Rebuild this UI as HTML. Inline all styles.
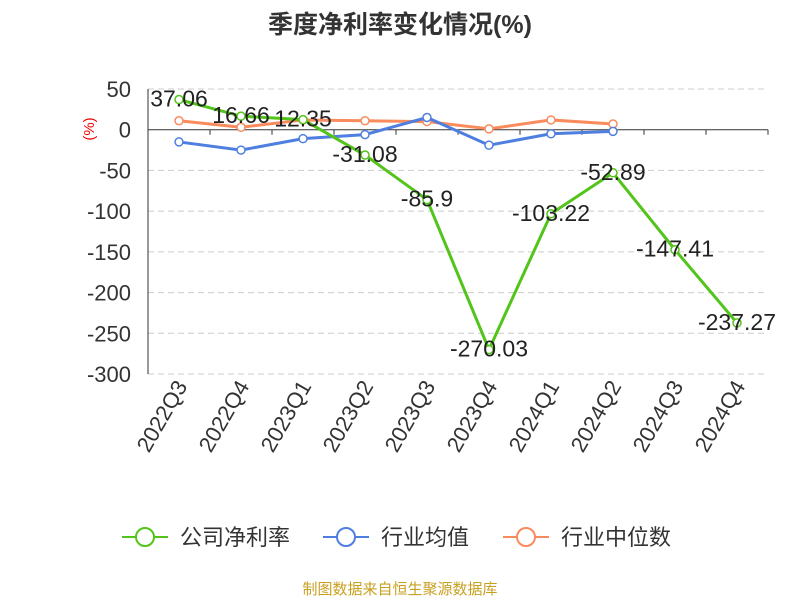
<!DOCTYPE html>
<html><head><meta charset="utf-8">
<style>
body{margin:0;background:#fff;font-family:"Liberation Sans","Noto Sans CJK SC",sans-serif;}
svg text{font-family:"Liberation Sans","Noto Sans CJK SC",sans-serif;}
</style></head>
<body>
<svg id="chart" width="800" height="600" xmlns="http://www.w3.org/2000/svg">
<text x="400" y="33" text-anchor="middle" font-size="25" font-weight="bold" fill="#333">季度净利率变化情况(%)</text>
<text x="94" y="129" font-size="15" fill="#e00" transform="rotate(-90 94 129)" text-anchor="middle">(%)</text>
<g id="grid"></g><g id="axes"></g><g id="series"></g>
<g>
<g><line x1="122" y1="537" x2="168" y2="537" stroke="#52c41a" stroke-width="2"/><circle cx="145" cy="537" r="9" fill="#fff" stroke="#52c41a" stroke-width="2"/><text x="180" y="545" font-size="22" fill="#333">公司净利率</text></g>
<g><line x1="323" y1="537" x2="369" y2="537" stroke="#4e7fe0" stroke-width="2"/><circle cx="346" cy="537" r="9" fill="#fff" stroke="#4e7fe0" stroke-width="2"/><text x="381" y="545" font-size="22" fill="#333">行业均值</text></g>
<g><line x1="503" y1="537" x2="549" y2="537" stroke="#f98b5d" stroke-width="2"/><circle cx="526" cy="537" r="9" fill="#fff" stroke="#f98b5d" stroke-width="2"/><text x="561" y="545" font-size="22" fill="#333">行业中位数</text></g>
</g>
<text x="400" y="594" text-anchor="middle" font-size="15" fill="#c8a020">制图数据来自恒生聚源数据库</text>
</svg>
<script>
const categories=["2022Q3","2022Q4","2023Q1","2023Q2","2023Q3","2023Q4","2024Q1","2024Q2","2024Q3","2024Q4"];
const companyValues=[37.06,16.66,12.35,-31.08,-85.9,-270.03,-103.22,-52.89,-147.41,-237.27];
const industryAvg=[-15,-25,-11,-6,15,-19,-5,-2];
const industryMedian=[11,3,12,11,10,1,12,7];
const yTicks=[50,0,-50,-100,-150,-200,-250,-300];
const NS="http://www.w3.org/2000/svg";
const left=148,right=768,yTop=89,yBot=374,vMax=50,vMin=-300;
const band=(right-left)/categories.length;
function xs(i){return left+band*(i+0.5);}
function ys(v){return yTop+(vMax-v)/(vMax-vMin)*(yBot-yTop);}
function mk(tag,attrs,parent){const e=document.createElementNS(NS,tag);for(const k in attrs)e.setAttribute(k,attrs[k]);parent.appendChild(e);return e;}
const grid=document.getElementById('grid'),axes=document.getElementById('axes'),ser=document.getElementById('series');
yTicks.forEach(t=>{
 if(t!==0){const l=mk('line',{x1:left,x2:right,y1:ys(t),y2:ys(t),stroke:'#ccc','stroke-dasharray':'6,4'},grid);
 
 }
 const tx=mk('text',{x:131,y:ys(t)+8,'text-anchor':'end','font-size':22,fill:'#333'},axes);tx.textContent=t;
 
 
});
const ya=mk('line',{x1:left,x2:left,y1:yTop,y2:yBot,stroke:'#333'},axes);


const xa=mk('line',{x1:left,x2:right,y1:ys(0),y2:ys(0),stroke:'#333'},axes);


categories.forEach((c,i)=>{
 const xx=left+band*i;mk('line',{x1:xx,x2:xx,y1:ys(0),y2:ys(0)+5,stroke:'#333'},axes);
 const x=xs(i),y=386;
 const t=mk('text',{x:x+9,y:y,'text-anchor':'end','font-size':22,fill:'#333',transform:`rotate(-60 ${x+9} ${y})`},axes);t.textContent=c;
 
 
});
mk('line',{x1:right,x2:right,y1:ys(0),y2:ys(0)+5,stroke:'#333'},axes);
function drawSeries(vals,color,name,labels){
 const g=mk('g',{},ser);
 
 
 mk('polyline',{points:vals.map((v,i)=>xs(i)+','+ys(v)).join(' '),fill:'none',stroke:color,'stroke-width':3},g);
 vals.forEach((v,i)=>{const c=mk('circle',{cx:xs(i),cy:ys(v),r:4,fill:'#fff',stroke:color,'stroke-width':1.5},g);
  
  
 });
 if(labels){vals.forEach((v,i)=>{const t=mk('text',{x:xs(i),y:ys(v)+7,'text-anchor':'middle','font-size':23,fill:'#222'},g);t.textContent=v;
   
   });}
}
drawSeries(industryMedian,'#f98b5d','industry-median-series',false);
drawSeries(industryAvg,'#4e7fe0','industry-avg-series',false);
drawSeries(companyValues,'#52c41a','company-series',true);
</script>
</body></html>
